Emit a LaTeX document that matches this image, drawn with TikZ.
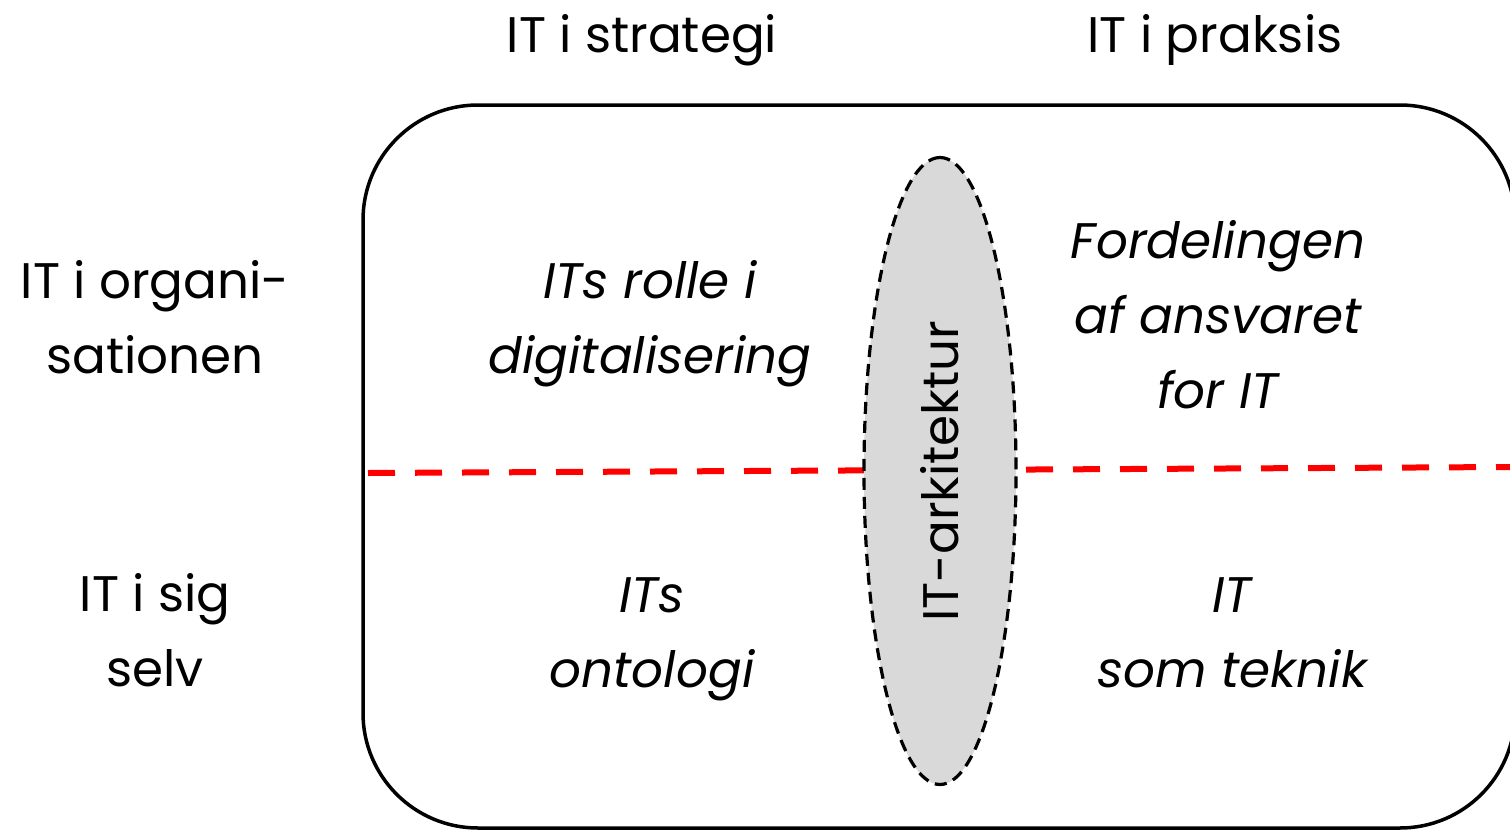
\documentclass[tikz,border=0pt]{standalone}
\usepackage{fontspec}
\setmainfont{Poppins}
\usetikzlibrary{shapes.geometric}

\begin{document}
\begin{tikzpicture}[x=1pt, y=-1pt]

  \tikzset{
    big-text/.style={font=\fontsize{50}{75}\selectfont, align=center, inner sep=0pt},
    cell-text/.style={big-text, font=\fontsize{50}{75}\selectfont\itshape},
    frame-box/.style={draw, line width=3.5pt, rounded corners=115pt, inner sep=0pt},
    split-line/.style={draw=red, line width=6pt, dash pattern=on 27pt off 20pt},
    arch-ellipse/.style={ellipse, draw, fill=black!15, line width=3.2pt,
      dash pattern=on 12pt off 7pt, inner sep=0pt}
  }

  \useasboundingbox (0,0) rectangle (1510,830);

  % Place the outer frame
  \node [frame-box, minimum width=1152pt, minimum height=723pt] (frame) at (939,466.5) {};

  % Place the column headings
  \node [big-text] (head-strategy) at (642,40) {IT i strategi};
  \node [big-text] (head-practice) at (1215,40) {IT i praksis};

  % Place the row headings
  \node [big-text] (row-org) at (155,317) {IT i organi-\\sationen};
  \node [big-text] (row-self) at (155,630) {IT i sig\\selv};

  % Place the cell texts
  \node [cell-text] (cell-role) at (650,324) {ITs rolle i\\digitalisering};
  \node [cell-text] (cell-share) at (1218,315) {Fordelingen\\af ansvaret\\for IT};
  \node [cell-text] (cell-onto) at (652,639) {ITs\\ontologi};
  \node [cell-text] (cell-tech) at (1232,633) {IT\\som teknik};

  % Place the dividing line
  \coordinate (split-west) at (368,473);
  \coordinate (split-east) at (1510,467);
  \draw [split-line] (split-west) -- (split-east);

  % Place the architecture ellipse
  \node [arch-ellipse, rotate=90, minimum width=627pt, minimum height=152pt, font=\fontsize{50}{75}\selectfont]
    (architecture) at (940,471) {IT-arkitektur};

\end{tikzpicture}
\end{document}
